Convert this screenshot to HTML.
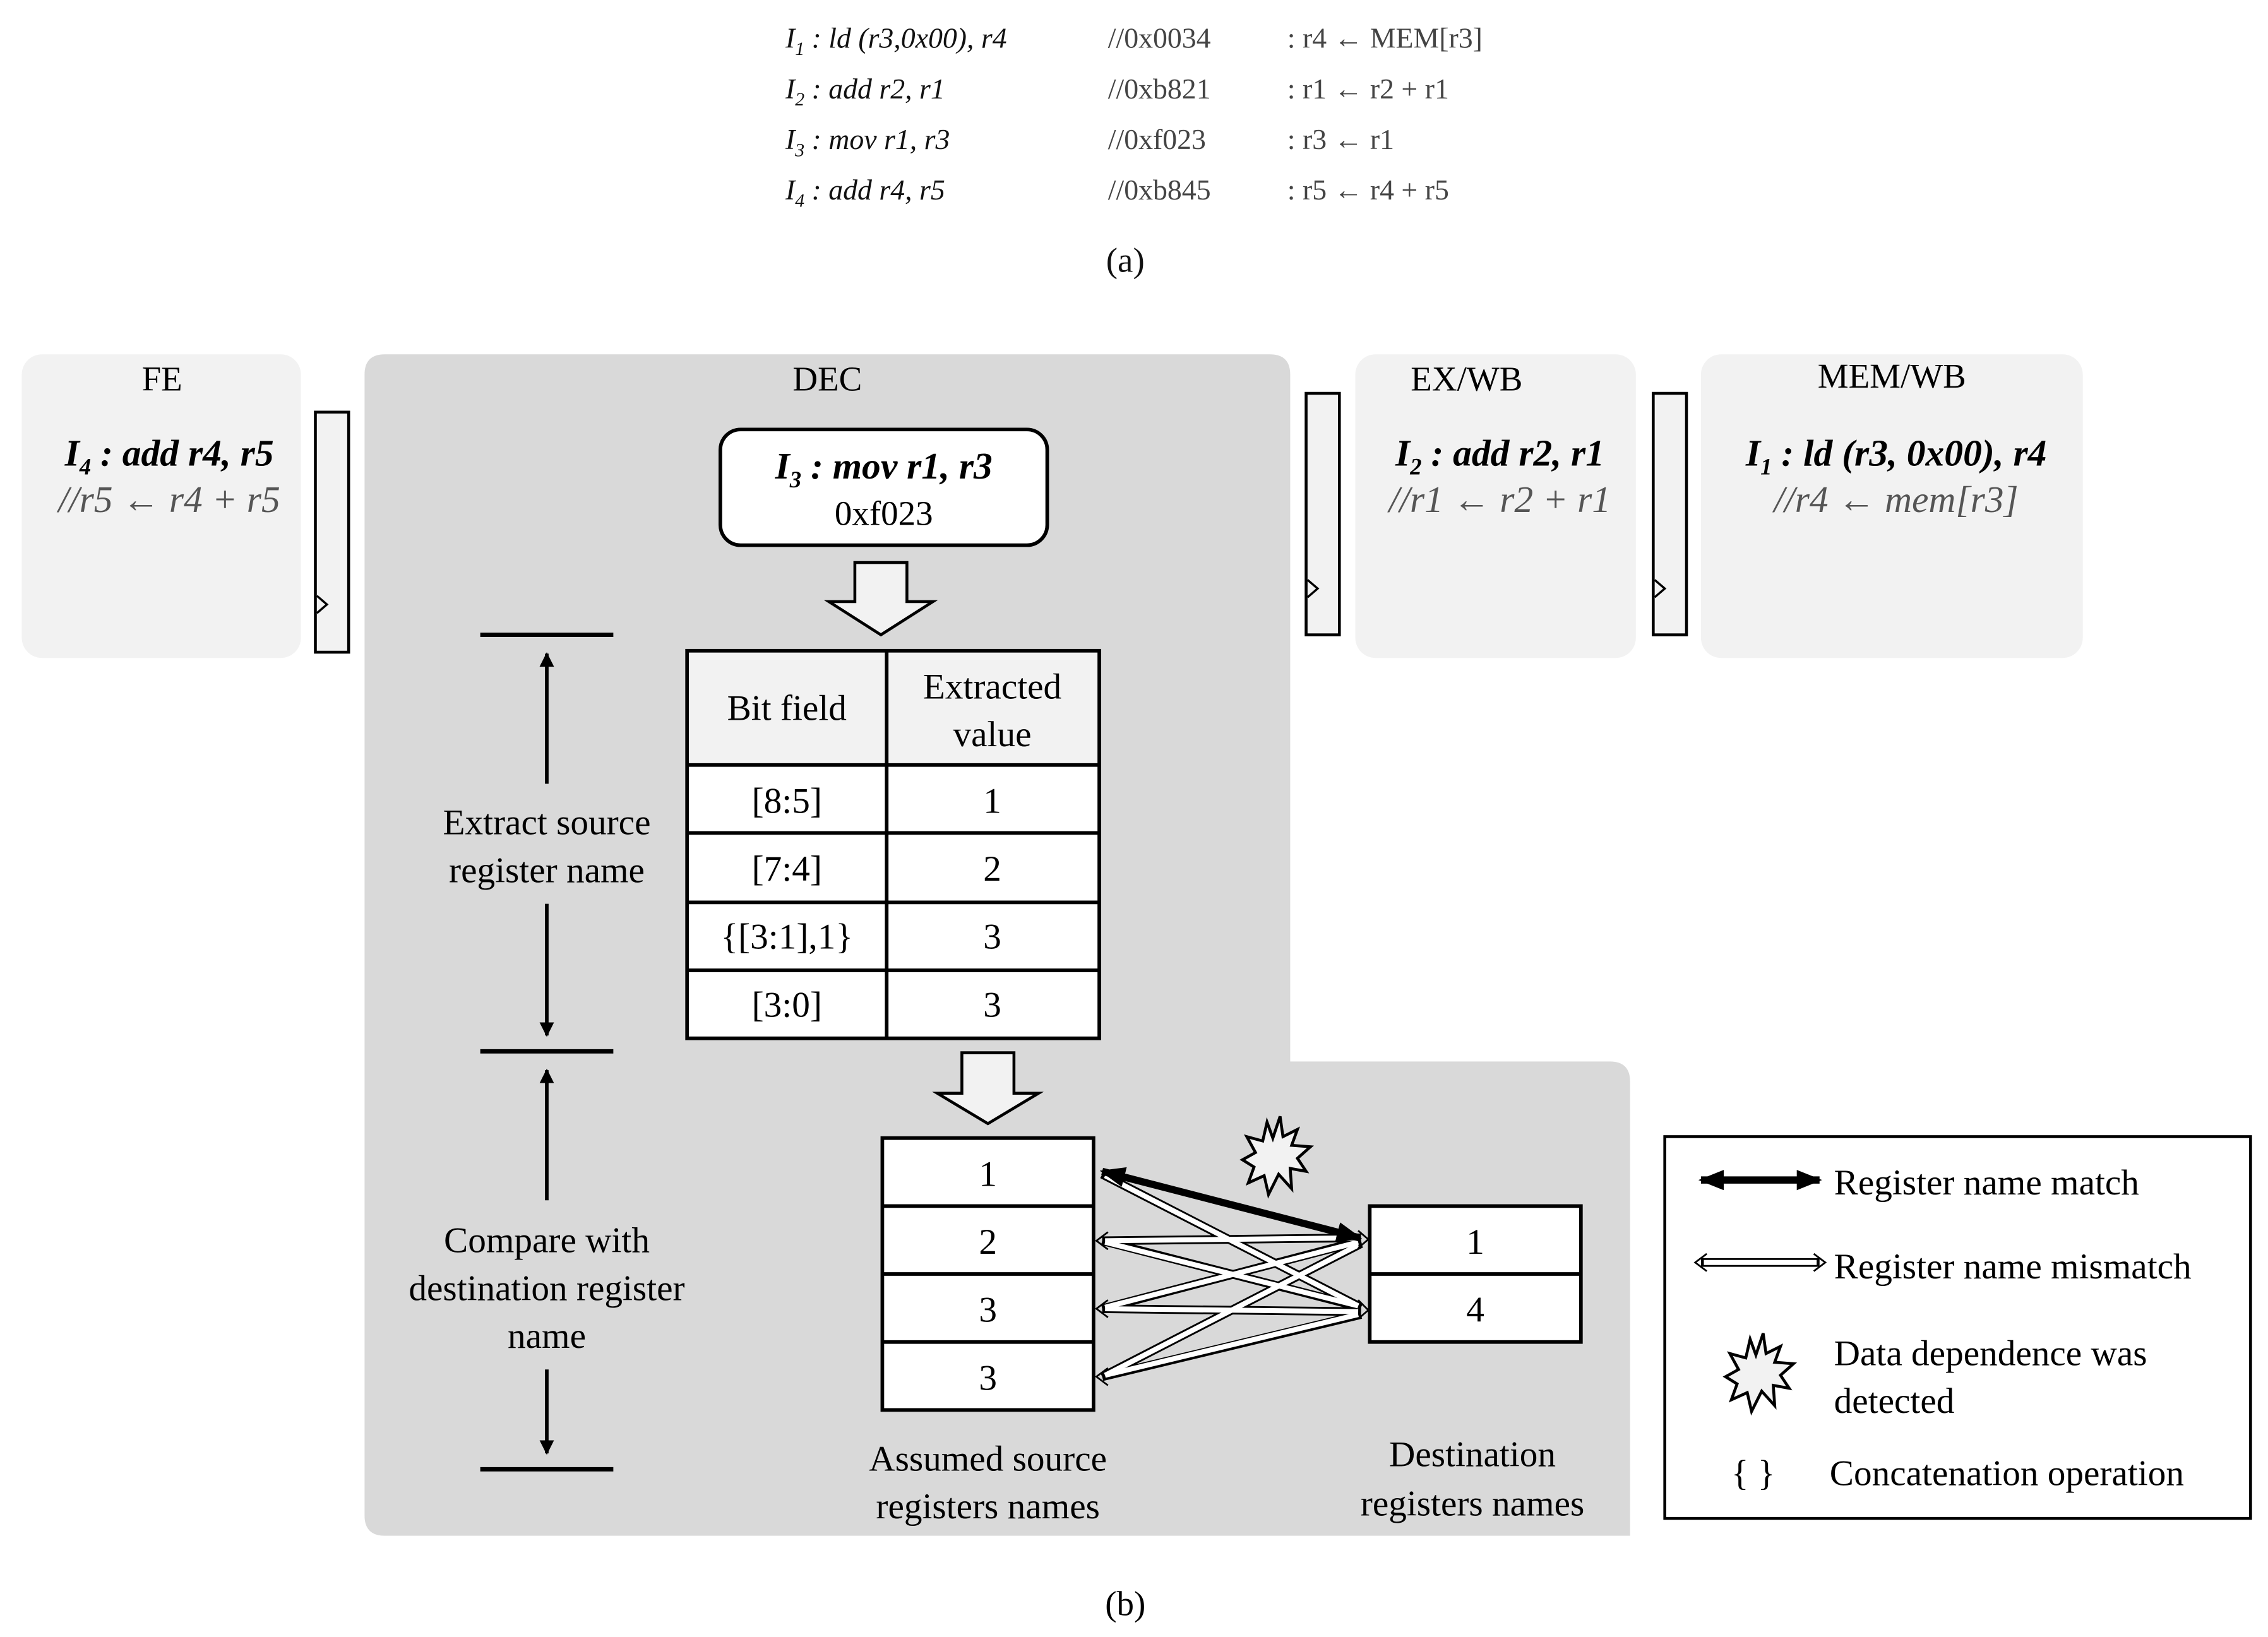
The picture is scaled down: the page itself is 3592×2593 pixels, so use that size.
<!DOCTYPE html>
<html><head><meta charset="utf-8"><style>html,body{margin:0;padding:0;background:#fff}svg{display:block}text{font-family:"Liberation Serif",serif}</style></head><body>
<svg width="3592" height="2593" viewBox="0 0 1568 1132" xmlns="http://www.w3.org/2000/svg">
<defs>
<marker id="hb" viewBox="0 0 10 10" refX="9" refY="5" markerWidth="4" markerHeight="4" orient="auto-start-reverse"><path d="M0,0 L10,5 L0,10 z" fill="#000"/></marker>
<marker id="ha" viewBox="0 0 10 10" refX="9" refY="5" markerWidth="3.5" markerHeight="3.5" orient="auto-start-reverse"><path d="M0,1 L10,5 L0,9 z" fill="#000"/></marker>
</defs>
<g font-size="20" fill="#111">
<g font-style="italic">
<text x="543" y="33">I<tspan font-size="13" dy="5">1</tspan><tspan dy="-5"> : ld (r3,0x00), r4</tspan></text>
<text x="543" y="68">I<tspan font-size="13" dy="5">2</tspan><tspan dy="-5"> : add r2, r1</tspan></text>
<text x="543" y="103">I<tspan font-size="13" dy="5">3</tspan><tspan dy="-5"> : mov r1, r3</tspan></text>
<text x="543" y="138">I<tspan font-size="13" dy="5">4</tspan><tspan dy="-5"> : add r4, r5</tspan></text>
</g>
<g fill="#444">
<text x="766" y="33">//0x0034</text><text x="766" y="68">//0xb821</text><text x="766" y="103">//0xf023</text><text x="766" y="138">//0xb845</text>
<text x="890" y="33">: r4 ← MEM[r3]</text><text x="890" y="68">: r1 ← r2 + r1</text><text x="890" y="103">: r3 ← r1</text><text x="890" y="138">: r5 ← r4 + r5</text>
</g>
<text x="778" y="188" text-anchor="middle" font-size="24">(a)</text>
</g>
<rect x="15" y="245" width="193" height="210" rx="14" fill="#f2f2f2"/>
<path d="M266,245 H878 Q892,245 892,259 V734 H1113 Q1127,734 1127,748 V1062 H266 Q252,1062 252,1048 V259 Q252,245 266,245 Z" fill="#d9d9d9"/>
<rect x="937" y="245" width="194" height="210" rx="14" fill="#f2f2f2"/>
<rect x="1176" y="245" width="264" height="210" rx="14" fill="#f2f2f2"/>
<g fill="#f2f2f2" stroke="#000" stroke-width="2">
<rect x="218" y="285" width="23" height="166"/>
<rect x="903" y="272" width="23" height="167"/>
<rect x="1143" y="272" width="23" height="167"/>
</g>
<g fill="none" stroke="#000" stroke-width="1.5">
<path d="M219,412 L226,418 L219,424"/><path d="M904,401 L911,407 L904,413"/><path d="M1144,401 L1151,407 L1144,413"/>
</g>
<g font-size="24" text-anchor="middle">
<text x="112" y="270">FE</text><text x="572" y="270">DEC</text><text x="1014" y="270">EX/WB</text><text x="1308" y="268">MEM/WB</text>
</g>
<g font-size="26" text-anchor="middle" font-style="italic" font-weight="bold">
<text x="117" y="322">I<tspan font-size="16" dy="6">4</tspan><tspan dy="-6"> : add r4, r5</tspan></text>
<text x="1037" y="322">I<tspan font-size="16" dy="6">2</tspan><tspan dy="-6"> : add r2, r1</tspan></text>
<text x="1311" y="322">I<tspan font-size="16" dy="6">1</tspan><tspan dy="-6"> : ld (r3, 0x00), r4</tspan></text>
</g>
<g font-size="26" text-anchor="middle" font-style="italic" fill="#555">
<text x="117" y="354">//r5 ← r4 + r5</text>
<text x="1037" y="354">//r1 ← r2 + r1</text>
<text x="1311" y="354">//r4 ← mem[r3]</text>
</g>
<rect x="498" y="297" width="226" height="80" rx="14" fill="#fff" stroke="#000" stroke-width="2.5"/>
<text x="611" y="331" font-size="26" text-anchor="middle" font-style="italic" font-weight="bold">I<tspan font-size="16" dy="6">3</tspan><tspan dy="-6"> : mov r1, r3</tspan></text>
<text x="611" y="363" font-size="24" text-anchor="middle">0xf023</text>
<path d="M591,389 H627 V416 H645 L609,439 L573,416 H591 Z" fill="#f2f2f2" stroke="#000" stroke-width="2"/>
<path d="M665,728 H701 V756 H718 L683,777 L648,756 H665 Z" fill="#f2f2f2" stroke="#000" stroke-width="2"/>
<rect x="475" y="450" width="285" height="79" fill="#f2f2f2"/>
<rect x="475" y="529" width="285" height="189" fill="#fff"/>
<g stroke="#000" stroke-width="2.5" fill="none">
<rect x="475" y="450" width="285" height="268"/>
<line x1="613" y1="450" x2="613" y2="718"/>
<line x1="475" y1="529" x2="760" y2="529"/><line x1="475" y1="576" x2="760" y2="576"/>
<line x1="475" y1="624" x2="760" y2="624"/><line x1="475" y1="671" x2="760" y2="671"/>
</g>
<g font-size="25" text-anchor="middle">
<text x="544" y="498">Bit field</text><text x="686" y="483">Extracted</text><text x="686" y="516">value</text>
<text x="544" y="562">[8:5]</text><text x="686" y="562">1</text>
<text x="544" y="609">[7:4]</text><text x="686" y="609">2</text>
<text x="544" y="656">{[3:1],1}</text><text x="686" y="656">3</text>
<text x="544" y="703">[3:0]</text><text x="686" y="703">3</text>
</g>
<g stroke="#000" stroke-width="3">
<line x1="332" y1="439" x2="424" y2="439"/><line x1="332" y1="727" x2="424" y2="727"/><line x1="332" y1="1016" x2="424" y2="1016"/>
</g>
<g stroke="#000" stroke-width="2.5" marker-end="url(#hb)">
<line x1="378" y1="542" x2="378" y2="452"/><line x1="378" y1="625" x2="378" y2="716"/>
<line x1="378" y1="830" x2="378" y2="740"/><line x1="378" y1="947" x2="378" y2="1005"/>
</g>
<g font-size="25" text-anchor="middle">
<text x="378" y="577">Extract source</text><text x="378" y="610">register name</text>
<text x="378" y="866">Compare with</text><text x="378" y="899">destination register</text><text x="378" y="932">name</text>
</g>
<g fill="#fff" stroke="#000" stroke-width="2.5">
<rect x="610" y="787" width="146" height="188"/>
<rect x="947" y="834" width="146" height="94"/>
</g>
<g stroke="#000" stroke-width="2.5">
<line x1="610" y1="834" x2="756" y2="834"/><line x1="610" y1="881" x2="756" y2="881"/><line x1="610" y1="928" x2="756" y2="928"/>
<line x1="947" y1="881" x2="1093" y2="881"/>
</g>
<g font-size="25" text-anchor="middle">
<text x="683" y="820">1</text><text x="683" y="867">2</text><text x="683" y="914">3</text><text x="683" y="961">3</text>
<text x="1020" y="867">1</text><text x="1020" y="914">4</text>
</g>
<g fill="none">
<g stroke="#000" stroke-width="6">
<line x1="762" y1="812" x2="941" y2="904"/>
<line x1="762" y1="858" x2="941" y2="856"/><line x1="762" y1="858" x2="941" y2="904"/>
<line x1="762" y1="905" x2="941" y2="858"/><line x1="762" y1="905" x2="941" y2="907"/>
<line x1="762" y1="952" x2="941" y2="860"/><line x1="762" y1="952" x2="941" y2="909"/>
</g>
<g stroke="#fff" stroke-width="3.5">
<line x1="764" y1="813" x2="939" y2="903"/>
<line x1="764" y1="858" x2="939" y2="856"/><line x1="764" y1="859" x2="939" y2="903"/>
<line x1="764" y1="904" x2="939" y2="859"/><line x1="764" y1="905" x2="939" y2="907"/>
<line x1="764" y1="951" x2="939" y2="861"/><line x1="764" y1="951" x2="939" y2="909"/>
</g>
<g stroke="#000" stroke-width="1.2">
<path d="M766,852 L758,858 L766,864"/><path d="M766,899 L758,905 L766,911"/><path d="M766,946 L758,952 L766,958"/>
<path d="M939,899 L946,906 L939,912"/><path d="M939,851 L946,857 L939,863"/>
</g>
</g>
<line x1="762" y1="810" x2="940" y2="856" stroke="#000" stroke-width="5" marker-start="url(#ha)" marker-end="url(#ha)"/>
<polygon points="885,772 887,786 897,781 893,792 906,793 897,801 903,810 892,808 893,822 884,812 877,826 874,813 863,818 867,807 859,802 868,797 862,786 873,789 876,776 880,787" fill="#f2f2f2" stroke="#000" stroke-width="2"/>
<g font-size="25" text-anchor="middle">
<text x="683" y="1017">Assumed source</text><text x="683" y="1050">registers names</text>
<text x="1018" y="1014">Destination</text><text x="1018" y="1048">registers names</text>
</g>
<rect x="1151" y="786" width="405" height="264" fill="#fff" stroke="#000" stroke-width="2"/>
<line x1="1176" y1="816" x2="1258" y2="816" stroke="#000" stroke-width="5" marker-start="url(#ha)" marker-end="url(#ha)"/>
<line x1="1176" y1="873" x2="1258" y2="873" stroke="#000" stroke-width="6"/>
<line x1="1178" y1="873" x2="1256" y2="873" stroke="#fff" stroke-width="3.5"/>
<path d="M1180,867 L1172,873 L1180,879 M1254,867 L1262,873 L1254,879" fill="none" stroke="#000" stroke-width="1.2"/>
<polygon points="1219,922 1221,936 1231,931 1227,942 1240,943 1231,951 1237,960 1226,958 1227,972 1218,962 1211,976 1208,963 1197,968 1201,957 1193,952 1202,947 1196,936 1207,939 1210,926 1214,937" fill="#f2f2f2" stroke="#000" stroke-width="2"/>
<g font-size="25">
<text x="1268" y="826">Register name match</text>
<text x="1268" y="884">Register name mismatch</text>
<text x="1268" y="944">Data dependence was</text><text x="1268" y="977">detected</text>
<text x="1197" y="1027">{ }</text><text x="1265" y="1027">Concatenation operation</text>
</g>
<text x="778" y="1117" text-anchor="middle" font-size="24">(b)</text>
</svg>
</body></html>
